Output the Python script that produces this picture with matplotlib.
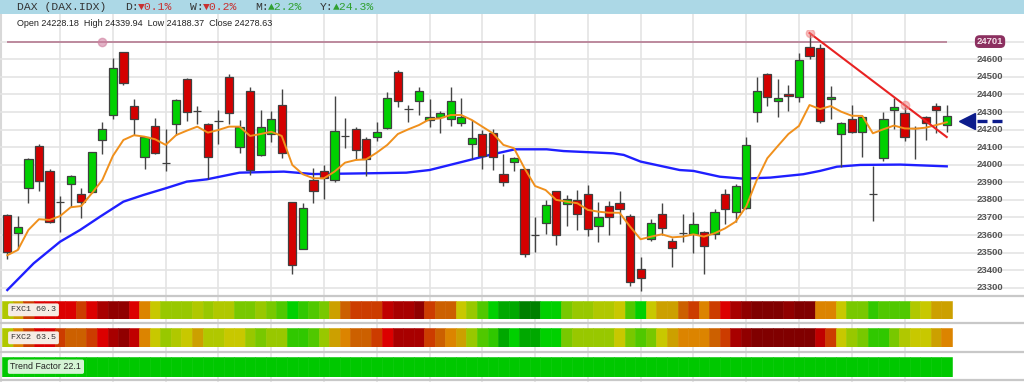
import matplotlib.pyplot as plt
from matplotlib.colors import ListedColormap

# daily DAX candles, oldest first
opens = [23714, 23610, 23870, 24107, 23966, 23786, 23889, 23832, 23847, 24139,
         24283, 24640, 24333, 24042, 24223, 24012, 24230, 24486, 24308, 24234,
         24249, 24501, 24103, 24422, 24058, 24173, 24338, 23786, 23523, 23913,
         23966, 23913, 24164, 24205, 24149, 24160, 24207, 24530, 24316, 24363,
         24255, 24274, 24259, 24236, 24116, 24173, 24179, 23946, 24018, 23976,
         23602, 23667, 23851, 23777, 23798, 23836, 23653, 23765, 23782, 23708,
         23405, 23576, 23722, 23566, 23611, 23606, 23616, 23604, 23834, 23729,
         23752, 24300, 24515, 24361, 24405, 24386, 24672, 24663, 24372, 24173,
         24262, 24188, 23832, 24037, 24312, 24297, 24207, 24274, 24333, 24228.18]
highs = [23720, 23708, 24040, 24120, 23976, 23824, 23940, 23870, 24075, 24243,
         24610, 24642, 24372, 24164, 24268, 24205, 24374, 24492, 24334, 24236,
         24312, 24517, 24255, 24445, 24312, 24306, 24433, 23790, 23784, 23980,
         23999, 24391, 24268, 24213, 24156, 24242, 24412, 24539, 24338, 24441,
         24372, 24306, 24445, 24378, 24255, 24198, 24204, 24061, 24046, 23978,
         23705, 23800, 23853, 23828, 23856, 23883, 23786, 23792, 23853, 23718,
         23473, 23691, 23782, 23581, 23722, 23733, 23623, 23748, 23860, 23889,
         24160, 24501, 24524, 24486, 24454, 24634, 24750, 24687, 24448, 24243,
         24340, 24279, 23993, 24298, 24378, 24331, 24223, 24278, 24353, 24339.94]
lows = [23462, 23521, 23784, 23853, 23667, 23616, 23762, 23699, 23837, 24061,
        24259, 24452, 24168, 23974, 24060, 23966, 24169, 24251, 24232, 23919,
        24118, 24232, 24065, 23942, 24050, 24131, 24037, 23377, 23519, 23781,
        23805, 23904, 24094, 24031, 23938, 24137, 24204, 24327, 24245, 24283,
        24217, 24179, 24221, 24223, 24033, 23974, 23970, 23879, 23966, 23477,
        23502, 23606, 23543, 23653, 23629, 23597, 23559, 23602, 23661, 23312,
        23284, 23566, 23602, 23420, 23559, 23500, 23378, 23576, 23663, 23672,
        23748, 24245, 24336, 24270, 24308, 24359, 24602, 24240, 24259, 23989,
        24183, 24046, 23682, 24023, 24202, 24135, 24031, 24141, 24183, 24188.37]
closes = [23502, 23644, 24031, 23910, 23672, 23786, 23936, 23790, 24073, 24205,
          24549, 24463, 24259, 24160, 24065, 24012, 24369, 24298, 24308, 24044,
          24249, 24297, 24217, 23972, 24217, 24262, 24069, 23428, 23752, 23849,
          23927, 24192, 24164, 24082, 24033, 24185, 24378, 24361, 24316, 24422,
          24274, 24293, 24363, 24270, 24150, 24050, 24044, 23902, 24039, 23490,
          23598, 23771, 23600, 23805, 23718, 23634, 23701, 23701, 23748, 23331,
          23358, 23671, 23642, 23526, 23609, 23661, 23536, 23733, 23748, 23881,
          24111, 24422, 24388, 24378, 24391, 24594, 24619, 24247, 24386, 24238,
          24185, 24270, 23832, 24259, 24329, 24156, 24207, 24240, 24312, 24278.63]

# orange short average, one value per candle
ma_fast = [23485, 23515, 23629, 23690, 23686, 23708, 23758, 23765, 23837, 23913,
           24050, 24141, 24168, 24160, 24145, 24113, 24169, 24194, 24217, 24183,
           24198, 24217, 24217, 24164, 24175, 24188, 24164, 23999, 23946, 23923,
           23923, 23961, 24012, 24027, 24031, 24069, 24113, 24175, 24202, 24226,
           24259, 24264, 24283, 24283, 24255, 24217, 24179, 24113, 24094, 23980,
           23879, 23856, 23800, 23790, 23781, 23743, 23733, 23727, 23727, 23648,
           23576, 23591, 23604, 23587, 23591, 23604, 23591, 23610, 23638, 23676,
           23762, 23913, 24037, 24107, 24175, 24221, 24340, 24317, 24334, 24302,
           24279, 24278, 24179, 24202, 24223, 24207, 24205, 24211, 24226, 24242]

# blue long average, read at these candle positions
ma_slow_pos = [0, 2.5, 5, 6.9, 8.8, 11, 12.9, 15, 17, 18.9, 22, 26.2, 29, 33.7,
               37.8, 40, 43.2, 45.7, 48.1, 51.1, 52.7, 57.4, 58.4, 60, 63.7, 65,
               67.5, 69.7, 72.3, 75.4, 77, 78.6, 80.8, 84.6, 89]
ma_slow = [23287, 23439, 23562, 23629, 23705, 23790, 23828, 23866, 23904, 23917,
           23955, 23961, 23947, 23951, 23955, 23970, 24018, 24056, 24088, 24088,
           24078, 24065, 24056, 24018, 23970, 23965, 23932, 23921, 23927, 23946,
           23965, 23989, 23999, 24001, 23991]

# heat strip levels (0 = dark red ... 17 = dark green)
fxc1 = [10, 8, 5, 4, 4, 4, 4, 5, 4, 2, 1, 1, 4, 7, 9, 11, 11, 11, 10, 11,
        10, 10, 12, 12, 11, 12, 13, 15, 14, 13, 12, 8, 6, 5, 5, 5, 3, 2, 2, 1,
        5, 6, 6, 9, 11, 13, 15, 16, 16, 17, 17, 15, 15, 12, 11, 11, 10, 10, 9, 13,
        15, 9, 8, 8, 6, 5, 7, 5, 4, 2, 1, 0, 0, 0, 1, 0, 0, 7, 7, 9,
        12, 12, 14, 13, 13, 13, 10, 9, 8, 8]
fxc2 = [10, 7, 5, 4, 4, 5, 6, 6, 5, 4, 2, 1, 3, 7, 9, 11, 10, 9, 8, 10,
        10, 9, 9, 11, 12, 11, 11, 14, 14, 13, 11, 8, 7, 6, 6, 5, 4, 2, 2, 2,
        5, 6, 7, 8, 11, 13, 14, 16, 15, 16, 16, 15, 15, 12, 11, 11, 11, 11, 9, 12,
        13, 12, 9, 8, 7, 7, 7, 6, 5, 2, 1, 0, 0, 0, 0, 0, 0, 3, 5, 9,
        11, 12, 14, 14, 12, 10, 9, 9, 8, 7]
palette = ['#800000', '#900000', '#a80000', '#c00000', '#dc0000', '#cc3c00',
           '#cc6000', '#dc8400', '#cca000', '#c8c800', '#b0c800', '#98c800',
           '#78c800', '#50c800', '#30c800', '#00d000', '#00a800', '#008000']

price_ticks = list(range(23300, 24700, 100))
level_line = 24701
trend_pts = [(76, 24750), (89, 24158)]
trend_marks = [(76, 24750), (85, 24340)]
arrow_price = 24250

idx = list(range(len(opens)))
grid_c = '#e4e4e4'
mono = ['Liberation Mono', 'DejaVu Sans Mono']
sans = ['Liberation Sans', 'DejaVu Sans']
xlim = (-0.692, 96.32)

fig = plt.figure(figsize=(10.24, 3.82), dpi=100)

# background: vertical grid, separators
bg = fig.add_axes([0, 0, 1, 1])
bg.set_xlim(*xlim)
bg.set_ylim(382, 0)
bg.axis('off')
bg.vlines(range(5, 90, 5), 14, 382, color=grid_c, lw=1.2)
bg.vlines([-0.55], 14, 382, color='#d8d8d8', lw=1.5)
bg.hlines([295.8, 323.3, 351.7, 380.3], xlim[0], xlim[1], color='#c8c8c8', lw=1.6)
bg.fill_between([xlim[0], xlim[1]], 0, 14, color='#acd8e6', lw=0)

# price panel
ax = fig.add_axes([0, 86 / 382, 1, 266 / 382])
ax.patch.set_visible(False)
ax.set_xlim(*xlim)
ax.set_ylim(23253, 24767)
ax.axis('off')
for p in price_ticks + [24700]:
    ax.axhline(p, color=grid_c, lw=1.2, zorder=0)

ax.hlines(level_line, 0, 89, color='#b0708a', lw=1.1, zorder=1)
ax.plot([9], [level_line], 'o', ms=6, color='#d080a0', alpha=0.6, zorder=2)

ax.plot(ma_slow_pos, ma_slow, color='#1f1fff', lw=1.7, zorder=2)
ax.plot(idx, ma_fast, color='#f0901c', lw=1.4, zorder=4)

bodies_low = [min(o, c) for o, c in zip(opens, closes)]
bodies_h = [abs(c - o) for o, c in zip(opens, closes)]
cols = ['#00d000' if c > o else ('#d40000' if c < o else '#333333')
        for o, c in zip(opens, closes)]
ax.vlines(idx, lows, highs, color='#444444', lw=1.0, zorder=3)
ax.bar(idx, bodies_h, bottom=bodies_low, width=0.78, color=cols,
       edgecolor='#404040', lw=0.9, zorder=3)

tx, ty = zip(*trend_pts)
ax.plot(tx, ty, color='#e82222', lw=1.5, zorder=5)
mx, my = zip(*trend_marks)
ax.plot(mx, my, 'o', ms=6, color='#f08080', alpha=0.5, zorder=5)

lab_x = (990 - 7.3) / 10.555
for p in price_ticks:
    ax.text(lab_x, p, str(p), ha='center', va='center', fontsize=6.8,
            fontweight='bold', color='#555555', family=sans)
ax.text(lab_x, level_line, str(level_line), ha='center', va='center',
        fontsize=6.8, fontweight='bold', color='#f3dfe8', family=sans,
        bbox=dict(boxstyle='round,pad=0.2,rounding_size=0.5', fc='#8c3060', ec='none'))
ax.plot([90.9], [arrow_price], marker='<', ms=12, color='#0c1c8c', zorder=6)
ax.plot([91.9, 94.4], [arrow_price, arrow_price], color='#0c1c8c', lw=2.4,
        dashes=(3, 1.5), solid_capstyle='butt', dash_capstyle='butt')

# heat strips
strips = [([0, 63.3 / 382, 1, 17.7 / 382], [palette[v] for v in fxc1], 'FXC1 60.3'),
          ([0, 34.7 / 382, 1, 19 / 382], [palette[v] for v in fxc2], 'FXC2 63.5'),
          ([0, 5.3 / 382, 1, 20 / 382], ['#00c800'] * len(idx), 'Trend Factor 22.1')]
for pos, colors, label in strips:
    s = fig.add_axes(pos)
    s.patch.set_visible(False)
    s.set_xlim(*xlim)
    s.set_ylim(0, 1)
    s.axis('off')
    s.bar(idx, 1, width=1.0, color=colors, edgecolor=colors, lw=0.4)
    if label.startswith('Trend'):
        s.text(0.3, 0.5, label, va='center', ha='left', fontsize=6.4, family=sans,
               color='#222222',
               bbox=dict(boxstyle='round,pad=0.3,rounding_size=0.2', fc='#d4f4d4', ec='none'))
    else:
        s.text(0.35, 0.5, label, va='center', ha='left', fontsize=6.0, family=mono,
               color='#333333',
               bbox=dict(boxstyle='round,pad=0.35,rounding_size=0.2', fc='#f6ece4', ec='none'))

# header texts
hy = 1 - 7.2 / 382
parts = [(17, 'DAX (DAX.IDX)', '#333333'), (125, 'D:', '#333333'),
         (138, '▼0.1%', '#c83030'), (190, 'W:', '#333333'),
         (203, '▼0.2%', '#c83030'), (255, 'M:', '#333333'),
         (268, '▲2.2%', '#30a030'), (320, 'Y:', '#333333'),
         (333, '▲24.3%', '#30a030')]
for px, t, c in parts:
    fig.text(px / 1024, hy, t, ha='left', va='center', fontsize=8.2,
             family=mono, color=c)
fig.text(16.7 / 1024, 1 - 23.3 / 382,
         'Open 24228.18  High 24339.94  Low 24188.37  Close 24278.63',
         ha='left', va='center', fontsize=6.5, family=sans, color='#222222')

fig.savefig('out.png', dpi=100)
